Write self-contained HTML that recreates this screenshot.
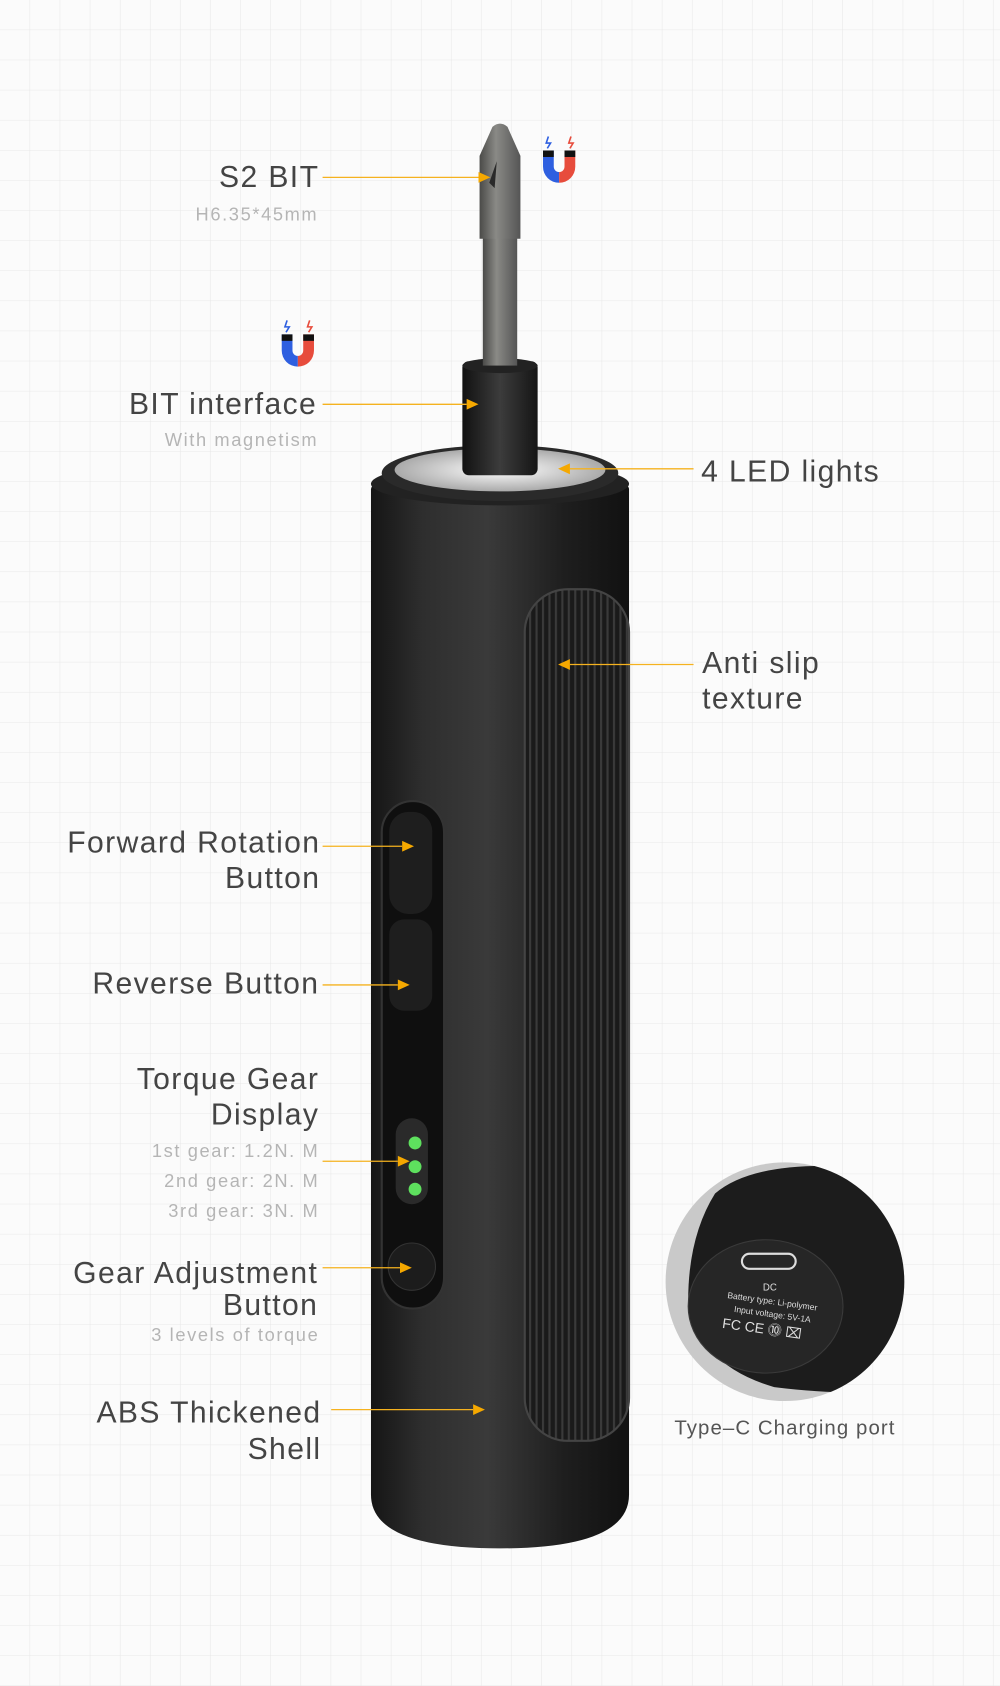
<!DOCTYPE html>
<html><head><meta charset="utf-8"><style>
html,body{margin:0;padding:0;background:#fbfbfb}
svg{display:block}
text{font-family:"Liberation Sans",sans-serif}
</style></head><body>
<svg width="1000" height="1686" viewBox="0 0 930 1568" xmlns="http://www.w3.org/2000/svg">
<defs>
<pattern id="g" width="28" height="28" patternUnits="userSpaceOnUse">
<path d="M28 0V28M0 28H28" stroke="#e8e8e8" stroke-width="1" fill="none"/>
</pattern>
<linearGradient id="body" x1="0" x2="1">
<stop offset="0" stop-color="#151515"/><stop offset="0.2" stop-color="#2e2e2e"/><stop offset="0.45" stop-color="#3a3a3a"/><stop offset="0.75" stop-color="#1e1e1e"/><stop offset="1" stop-color="#111"/>
</linearGradient>
<linearGradient id="bit" x1="0" x2="1">
<stop offset="0" stop-color="#4a4a48"/><stop offset="0.4" stop-color="#8a8a86"/><stop offset="1" stop-color="#555"/>
</linearGradient>
<linearGradient id="sh" x1="0" x2="1">
<stop offset="0" stop-color="#111"/><stop offset="0.5" stop-color="#3c3c3c"/><stop offset="1" stop-color="#151515"/>
</linearGradient>
<radialGradient id="ring"><stop offset="0" stop-color="#fff"/><stop offset="1" stop-color="#aaa"/></radialGradient>
<pattern id="tex" width="6" height="10" patternUnits="userSpaceOnUse">
<rect width="6" height="10" fill="#1a1a1a"/><rect width="2" height="10" fill="#3a3a3a"/>
</pattern>
</defs>
<rect width="930" height="1568" fill="url(#g)"/>

<path d="M345 455 Q345 440 465 440 Q585 440 585 455 L585 1390 Q585 1440 465 1440 Q345 1440 345 1390 Z" fill="url(#body)"/>
<ellipse cx="465" cy="450" rx="120" ry="20" fill="#222"/>
<ellipse cx="465" cy="440" rx="110" ry="26" fill="#2a2a2a"/>
<ellipse cx="465" cy="437" rx="98" ry="20" fill="url(#ring)"/>
<rect x="430" y="336" width="70" height="106" rx="6" fill="url(#sh)"/>
<ellipse cx="465" cy="340" rx="35" ry="7" fill="#222"/>
<rect x="449" y="220" width="32" height="120" fill="url(#bit)"/>
<path d="M446 145 L458 118 Q465 112 472 118 L484 145 L484 222 L446 222 Z" fill="url(#bit)"/>
<path d="M455 170 L462 150 L460 175 Z" fill="#2a2a2a"/>

<rect x="488" y="548" width="97" height="792" rx="40" fill="url(#tex)" stroke="#444" stroke-width="2"/>
<rect x="355" y="745" width="58" height="472" rx="29" fill="#0f0f0f" stroke="#333" stroke-width="2"/>
<rect x="362" y="755" width="40" height="95" rx="18" fill="#1e1e1e"/>
<rect x="362" y="855" width="40" height="85" rx="14" fill="#1e1e1e"/>
<rect x="368" y="1040" width="30" height="80" rx="15" fill="#2a2a2a"/>
<circle cx="386" cy="1063" r="6" fill="#5ee05e"/>
<circle cx="386" cy="1085" r="6" fill="#5ee05e"/>
<circle cx="386" cy="1106" r="6" fill="#5ee05e"/>
<circle cx="383" cy="1178" r="22" fill="#1c1c1c" stroke="#333"/>

<g transform="translate(503,125)">
<path d="M2 15 V30 A15 15 0 0 0 17 45 V35 A5 5 0 0 1 12 30 V15 Z" fill="#2e5fe0"/>
<path d="M32 15 V30 A15 15 0 0 1 17 45 V35 A5 5 0 0 0 22 30 V15 Z" fill="#e74c3c"/>
<rect x="2" y="15" width="10" height="6" fill="#111"/><rect x="22" y="15" width="10" height="6" fill="#111"/>
<path d="M7 2 L5 8 L9 8 L6 13" stroke="#2e5fe0" fill="none" stroke-width="1.5"/>
<path d="M28 2 L26 8 L30 8 L27 13" stroke="#e74c3c" fill="none" stroke-width="1.5"/>
</g>
<g transform="translate(260,296)">
<path d="M2 15 V30 A15 15 0 0 0 17 45 V35 A5 5 0 0 1 12 30 V15 Z" fill="#2e5fe0"/>
<path d="M32 15 V30 A15 15 0 0 1 17 45 V35 A5 5 0 0 0 22 30 V15 Z" fill="#e74c3c"/>
<rect x="2" y="15" width="10" height="6" fill="#111"/><rect x="22" y="15" width="10" height="6" fill="#111"/>
<path d="M7 2 L5 8 L9 8 L6 13" stroke="#2e5fe0" fill="none" stroke-width="1.5"/>
<path d="M28 2 L26 8 L30 8 L27 13" stroke="#e74c3c" fill="none" stroke-width="1.5"/>
</g>

<g stroke="#f5b21f" stroke-width="1.2" fill="#f5a800">
<line x1="300" y1="165" x2="445" y2="165"/><path d="M445 160 L456 165 L445 170 Z" stroke="none"/>
<line x1="300" y1="376" x2="434" y2="376"/><path d="M434 371 L445 376 L434 381 Z" stroke="none"/>
<line x1="645" y1="436" x2="530" y2="436"/><path d="M530 431 L519 436 L530 441 Z" stroke="none"/>
<line x1="645" y1="618" x2="530" y2="618"/><path d="M530 613 L519 618 L530 623 Z" stroke="none"/>
<line x1="300" y1="787" x2="374" y2="787"/><path d="M374 782 L385 787 L374 792 Z" stroke="none"/>
<line x1="300" y1="916" x2="370" y2="916"/><path d="M370 911 L381 916 L370 921 Z" stroke="none"/>
<line x1="300" y1="1080" x2="370" y2="1080"/><path d="M370 1075 L381 1080 L370 1085 Z" stroke="none"/>
<line x1="300" y1="1179" x2="372" y2="1179"/><path d="M372 1174 L383 1179 L372 1184 Z" stroke="none"/>
<line x1="308" y1="1311" x2="440" y2="1311"/><path d="M440 1306 L451 1311 L440 1316 Z" stroke="none"/>
</g>

<g fill="#444" font-size="28" letter-spacing="1.3">
<text x="297" y="174" text-anchor="end">S2 BIT</text>
<text x="295" y="385" text-anchor="end">BIT interface</text>
<text x="652" y="448">4 LED lights</text>
<text x="653" y="626">Anti slip</text>
<text x="653" y="659">texture</text>
<text x="298" y="793" text-anchor="end">Forward Rotation</text>
<text x="298" y="826" text-anchor="end">Button</text>
<text x="297" y="924" text-anchor="end">Reverse Button</text>
<text x="297" y="1013" text-anchor="end">Torque Gear</text>
<text x="297" y="1046" text-anchor="end">Display</text>
<text x="296" y="1193" text-anchor="end">Gear Adjustment</text>
<text x="296" y="1223" text-anchor="end">Button</text>
<text x="299" y="1323" text-anchor="end">ABS Thickened</text>
<text x="299" y="1357" text-anchor="end">Shell</text>
</g>
<g fill="#b5b5b5" font-size="17" letter-spacing="1.5">
<text x="296" y="205" text-anchor="end">H6.35*45mm</text>
<text x="296" y="415" text-anchor="end">With magnetism</text>
<text x="297" y="1076" text-anchor="end">1st gear: 1.2N. M</text>
<text x="297" y="1104" text-anchor="end">2nd gear: 2N. M</text>
<text x="297" y="1132" text-anchor="end">3rd gear: 3N. M</text>
<text x="297" y="1247" text-anchor="end">3 levels of torque</text>
</g>
<text x="730" y="1334" text-anchor="middle" fill="#555" font-size="19" letter-spacing="1">Type–C Charging port</text>

<circle cx="730" cy="1192" r="111" fill="#c9c9c9"/>
<clipPath id="cc"><circle cx="730" cy="1192" r="111"/></clipPath>
<g clip-path="url(#cc)">
<path d="M665 1110 Q700 1080 790 1085 Q860 1100 860 1200 L860 1290 Q800 1300 720 1290 Q650 1270 640 1210 Q640 1150 665 1110 Z" fill="#1c1c1c"/>
<ellipse cx="712" cy="1215" rx="72" ry="62" fill="#262626" stroke="#3a3a3a"/>
<rect x="690" y="1166" width="50" height="14" rx="7" fill="none" stroke="#ddd" stroke-width="2"/>
<text x="716" y="1200" fill="#ddd" font-size="9" text-anchor="middle">DC</text>
<text x="718" y="1213" fill="#ddd" font-size="8" text-anchor="middle" transform="rotate(8 718 1213)">Battery type: Li-polymer</text>
<text x="718" y="1225" fill="#ddd" font-size="8" text-anchor="middle" transform="rotate(8 718 1225)">Input voltage: 5V-1A</text>
<text x="708" y="1240" fill="#ddd" font-size="13" text-anchor="middle" transform="rotate(8 708 1240)">FC CE ⓾ ⌧</text>
</g>
</svg>
</body></html>
